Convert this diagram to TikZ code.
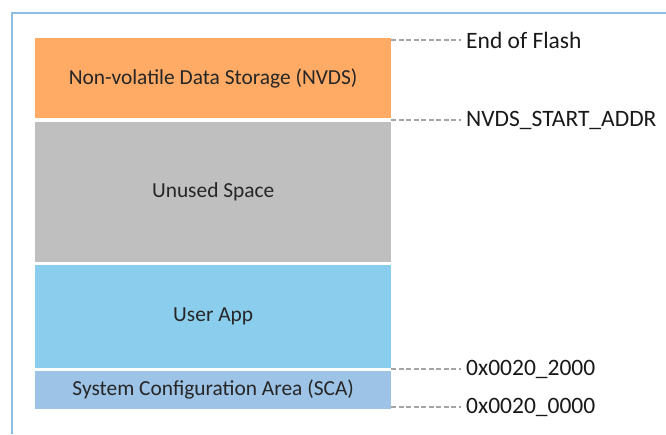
\documentclass[tikz,border=0pt]{standalone}
\usepackage{fontspec}
\setmainfont{Carlito}
\definecolor{framblue}{RGB}{141, 190, 232}
\definecolor{nvdsorange}{RGB}{255, 171, 102}
\definecolor{unusedgray}{RGB}{191, 191, 191}
\definecolor{appblue}{RGB}{138, 205, 237}
\definecolor{scablue}{RGB}{157, 195, 230}
\definecolor{dashgray}{RGB}{165, 165, 165}
\usepackage{tikz}
\usetikzlibrary{positioning}

\begin{document}
\begin{tikzpicture}[x=1pt, y=-1pt,
  blk/.style={fill=#1, anchor=north west, minimum width=356pt, inner sep=0pt,
    font=\fontsize{21.4}{24}\selectfont, text=black!85},
  addr/.style={anchor=west, inner sep=0pt, font=\fontsize{23.5}{26}\selectfont, text=black!90},
  lead/.style={draw=dashgray, line width=2pt, dash pattern=on 5pt off 2.5pt},
]
  \useasboundingbox (0,0) rectangle (666,434);
  % frame
  \draw[framblue, line width=2pt] (11.5,434) -- (11.5,12.5) -- (666,12.5);

  % memory blocks
  \node[blk=nvdsorange, minimum height=80pt] (nvds) at (35,38) {Non-volatile Data Storage (NVDS)};
  \node[blk=unusedgray, minimum height=139.5pt] (unused) at (35,122) {Unused Space};
  \node[blk=appblue, minimum height=102.5pt] (app) at (35,265) {User App};
  \node[blk=scablue, minimum height=38pt] (sca) at (35,370.5) {System Configuration Area (SCA)};

  % addresses
  \node[addr] (endflash) at (466,40) {End of Flash};
  \node[addr] (nvdsstart) at (466,120) {NVDS\_START\_ADDR};
  \node[addr] (appstart) at (466,369) {0x0020\_2000};
  \node[addr] (scastart) at (466,407) {0x0020\_0000};

  \coordinate (p1) at (391,40);
  \coordinate (p2) at (391,120);
  \coordinate (p3) at (391,369);
  \coordinate (p4) at (391,407);
  \draw[lead] (p1) -- ([xshift=-5pt]endflash.west);
  \draw[lead] (p2) -- ([xshift=-5pt]nvdsstart.west);
  \draw[lead] (p3) -- ([xshift=-5pt]appstart.west);
  \draw[lead] (p4) -- ([xshift=-5pt]scastart.west);
\end{tikzpicture}
\end{document}
